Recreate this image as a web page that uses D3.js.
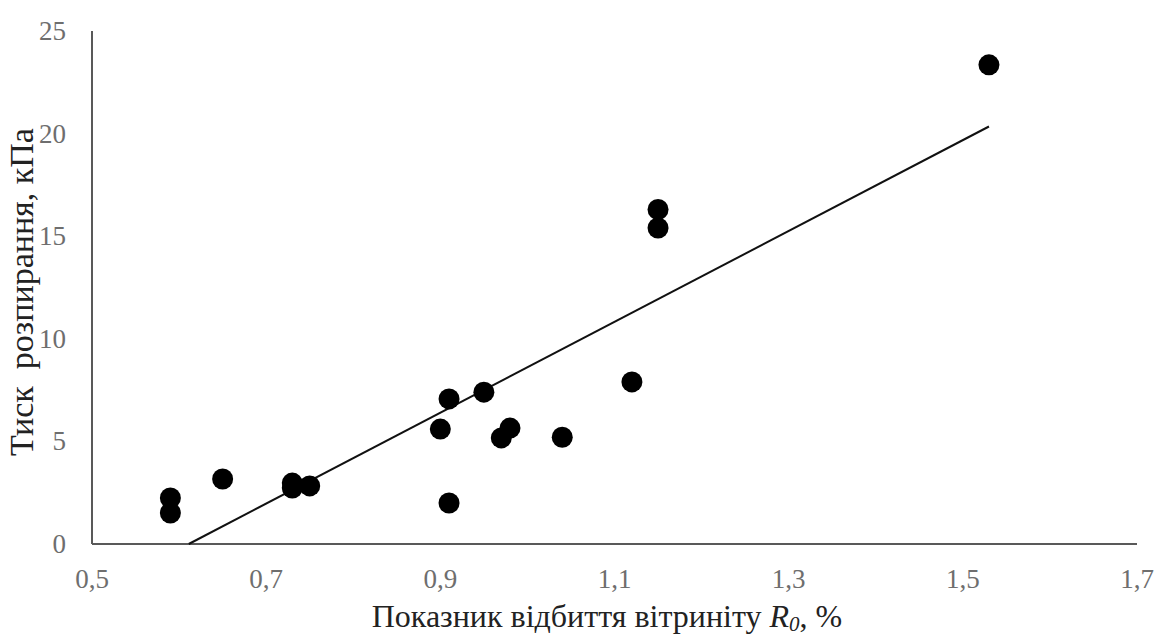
<!DOCTYPE html>
<html>
<head>
<meta charset="utf-8">
<script src="https://cdn.jsdelivr.net/npm/d3@7"></script>
<style>
  body { margin: 0; background: #fff; }
  svg { display: block; font-family: "Liberation Serif", "DejaVu Serif", serif; }
</style>
</head>
<body>
<svg id="chart" width="1157" height="639"></svg>
<script>
// reflectance R0, % vs. swelling pressure, kPa
let reflectance = [0.59, 0.59, 0.65, 0.73, 0.73, 0.75, 0.90, 0.91, 0.91, 0.95, 0.97, 0.98, 1.04, 1.12, 1.15, 1.15, 1.53]
let pressure    = [2.24, 1.51, 3.17, 2.97, 2.73, 2.83, 5.60, 7.07, 2.00, 7.40, 5.17, 5.65, 5.20, 7.90, 16.3, 15.4, 23.35]
let xTicks = [0.5, 0.7, 0.9, 1.1, 1.3, 1.5, 1.7]
let yTicks = [0, 5, 10, 15, 20, 25]

let points = reflectance.map((r, i) => ({ x: r, y: pressure[i] }))

let svg = d3.select("#chart")
let x = d3.scaleLinear().domain([0.5, 1.7]).range([92, 1137])
let y = d3.scaleLinear().domain([0, 25]).range([544, 31])

let axisColor = "#595959"
let tickColor = "#6e6e6e"

// axis lines
svg.append("line")
  .attr("x1", x(0.5)).attr("x2", x(0.5))
  .attr("y1", y(25)).attr("y2", y(0))
  .style("stroke", axisColor).style("stroke-width", 2)
svg.append("line")
  .attr("x1", x(0.5)).attr("x2", x(1.7))
  .attr("y1", y(0)).attr("y2", y(0))
  .style("stroke", axisColor).style("stroke-width", 2)

// tick labels
svg.selectAll("text.ytick").data(yTicks).enter()
  .append("text").classed("ytick", true)
  .attr("x", 66).attr("y", d => y(d) + 9)
  .attr("text-anchor", "end")
  .style("font-size", "27px").style("fill", tickColor)
  .text(d => d)

svg.selectAll("text.xtick").data(xTicks).enter()
  .append("text").classed("xtick", true)
  .attr("x", d => x(d)).attr("y", 588)
  .attr("text-anchor", "middle")
  .style("font-size", "27px").style("fill", tickColor)
  .text(d => String(d).replace(".", ","))

// linear trend (least squares of the points)
let mx = d3.mean(points, d => d.x), my = d3.mean(points, d => d.y)
let slope = d3.sum(points, d => (d.x - mx) * (d.y - my)) / d3.sum(points, d => (d.x - mx) ** 2)
let icpt = my - slope * mx
let x0 = -icpt / slope, x1 = d3.max(points, d => d.x)
svg.append("line")
  .attr("x1", x(x0)).attr("y1", y(slope * x0 + icpt))
  .attr("x2", x(x1)).attr("y2", y(slope * x1 + icpt))
  .style("stroke", "#111").style("stroke-width", 2)

// points
svg.selectAll("circle").data(points).enter()
  .append("circle")
  .attr("cx", d => x(d.x)).attr("cy", d => y(d.y))
  .attr("r", 10.5)
  .style("fill", "#000")

// axis titles
svg.append("text")
  .attr("transform", "translate(33,292) rotate(-90)")
  .attr("text-anchor", "middle")
  .style("font-size", "34px").style("fill", "#222")
  .style("white-space", "pre")
  .text("Тиск  розпирання, кПа")

let xt = svg.append("text")
  .attr("x", 607).attr("y", 627)
  .attr("text-anchor", "middle")
  .style("font-size", "32px").style("fill", "#222")
xt.append("tspan").text("Показник відбиття вітриніту ")
xt.append("tspan").style("font-style", "italic").text("R")
xt.append("tspan").style("font-style", "italic").style("font-size", "21px").attr("dy", 4).text("0")
xt.append("tspan").attr("dy", -4).text(", %")
</script>
</body>
</html>
